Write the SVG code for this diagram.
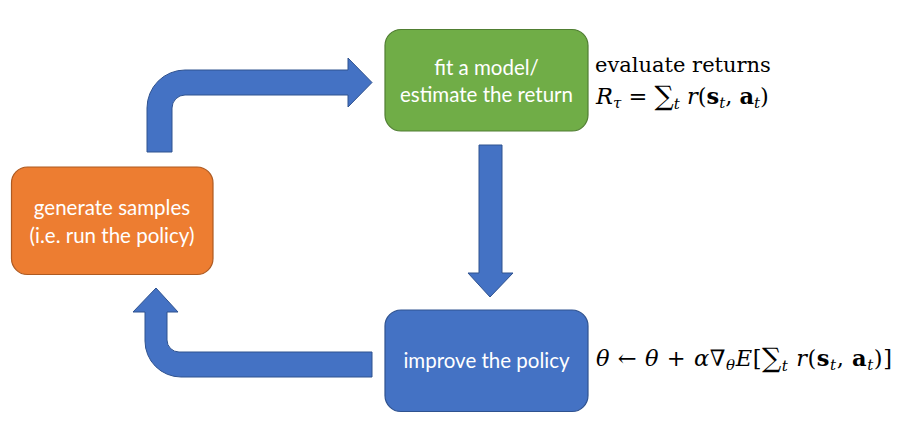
<svg xmlns="http://www.w3.org/2000/svg" width="903" height="441" viewBox="0 0 903 441">
<style>
.box{stroke-width:1.2}
.lbl{font-family:Lato,"Open Sans","Liberation Sans",sans-serif;font-size:20.5px;fill:#fff;text-anchor:middle}
.arrow{fill:#4472C4;stroke:#2F528F;stroke-width:1}
.math{font-family:"DejaVu Serif","Liberation Serif",serif;font-size:21px;fill:#000}
.f{font-size:22.5px}
.it{font-style:italic}
.bf{font-weight:bold;font-style:normal}
.sub{font-size:15px}
.big{font-size:27px}
</style>
<rect width="903" height="441" fill="#fff"/>
<g id="connectors">
<path class="arrow" d="M147,152 L147,108 A38,38 0 0 1 185,70 L348,70 L348,58 L372,82.5 L348,107 L348,95 L185,95 A13,13 0 0 0 172,108 L172,152 Z"/>
<path class="arrow" d="M479,145 L502,145 L502,273 L513,273 L490,297 L468,273 L479,273 Z"/>
<path class="arrow" d="M372,352 L179,352 A12,12 0 0 1 167,340 L167,312 L178,312 L156,288 L133,312 L145,312 L145,341 A36,36 0 0 0 181,377 L372,377 Z"/>
</g>
<g id="node-fit">
<rect class="box" x="385" y="29.5" width="203" height="101.5" rx="16" fill="#70AD47" stroke="#507E32"/>
<text class="lbl" x="486.5" y="75">fit a model/</text>
<text class="lbl" x="486.5" y="102">estimate the return</text>
</g>
<g id="node-generate">
<rect class="box" x="11.5" y="167" width="201.5" height="107.5" rx="16" fill="#ED7D31" stroke="#AE5A21"/>
<text class="lbl" x="112" y="215">generate samples</text>
<text class="lbl" x="112" y="243">(i.e. run the policy)</text>
</g>
<g id="node-improve">
<rect class="box" x="385" y="310" width="203" height="101.5" rx="16" fill="#4472C4" stroke="#2F528F"/>
<text class="lbl" x="486.5" y="368">improve the policy</text>
</g>
<g id="annotations">
<text class="math" x="595" y="72">evaluate returns</text>
<text class="math f" x="596" y="104"><tspan class="it">R</tspan><tspan class="it sub" dy="4">τ</tspan><tspan dy="-4"> = </tspan><tspan class="big" dy="1">∑</tspan><tspan class="it sub" dy="4">t</tspan><tspan class="it" dy="-5"> r</tspan><tspan>(</tspan><tspan class="bf">s</tspan><tspan class="it sub" dy="4">t</tspan><tspan dy="-4">, </tspan><tspan class="bf">a</tspan><tspan class="it sub" dy="4">t</tspan><tspan dy="-4">)</tspan></text>
<text class="math f" x="596" y="366" textLength="296" lengthAdjust="spacing"><tspan class="it">θ</tspan><tspan> ← </tspan><tspan class="it">θ</tspan><tspan> + </tspan><tspan class="it">α</tspan><tspan>∇</tspan><tspan class="it sub" dy="4">θ</tspan><tspan class="it" dy="-4">E</tspan><tspan>[</tspan><tspan class="big" dy="1">∑</tspan><tspan class="it sub" dy="4">t</tspan><tspan class="it" dy="-5"> r</tspan><tspan>(</tspan><tspan class="bf">s</tspan><tspan class="it sub" dy="4">t</tspan><tspan dy="-4">, </tspan><tspan class="bf">a</tspan><tspan class="it sub" dy="4">t</tspan><tspan dy="-4">)]</tspan></text>
</g>
</svg>
